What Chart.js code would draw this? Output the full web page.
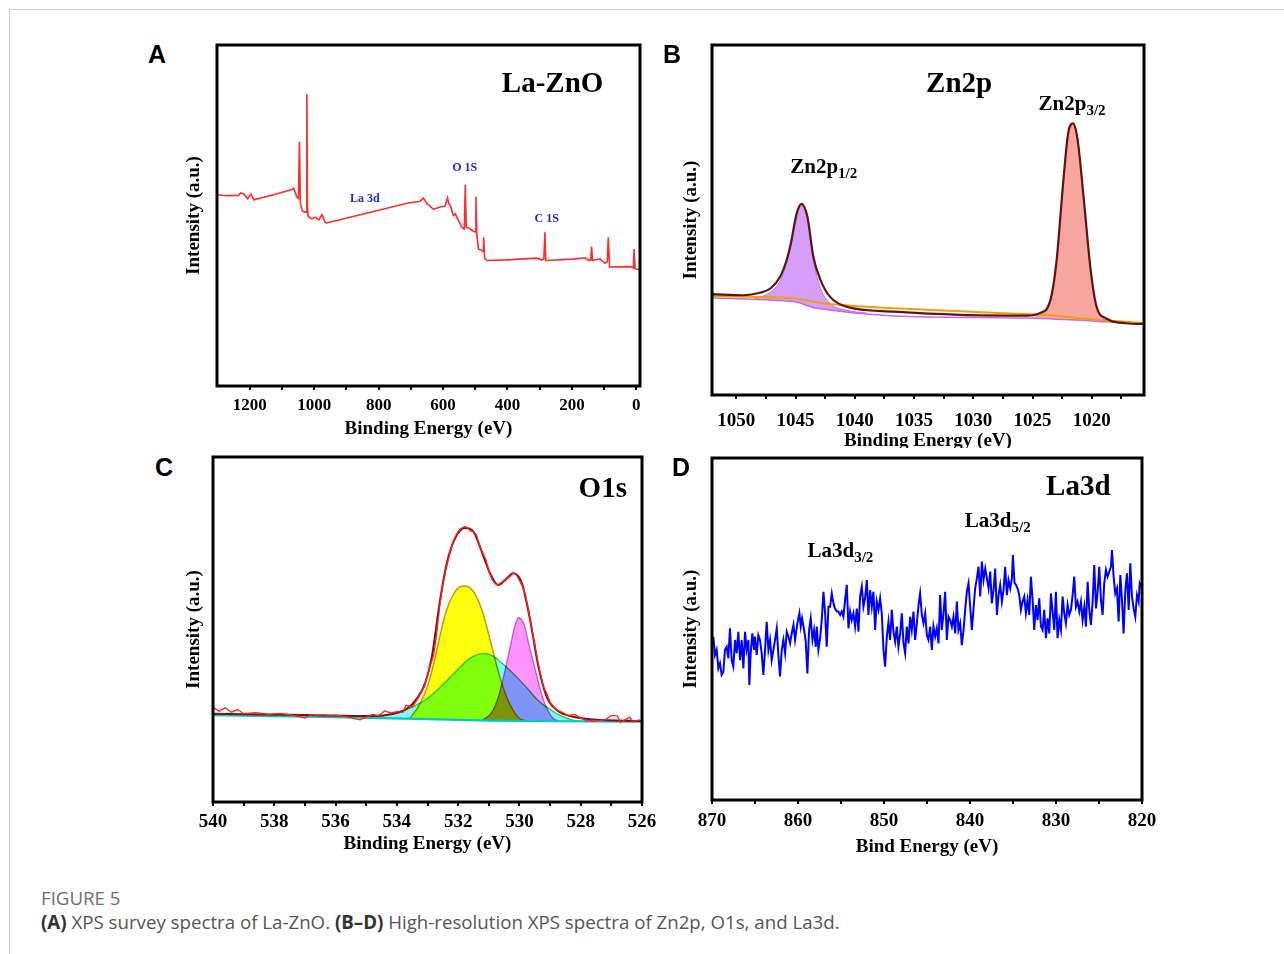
<!DOCTYPE html>
<html><head><meta charset="utf-8">
<script src="https://cdn.jsdelivr.net/npm/chart.js@4.4.0/dist/chart.umd.min.js"></script>
<style>
html,body{margin:0;padding:0;background:#fff;}
#fig{position:relative;width:1284px;height:954px;overflow:hidden;background:#fff;}
canvas{position:absolute;z-index:1;}
.ftop{position:absolute;left:9px;top:9px;width:1280px;height:0;border-top:1.5px solid #cfcfcf;}
.fleft{position:absolute;left:9px;top:9px;width:0;height:950px;border-left:1.5px solid #cfcfcf;}
.letter{position:absolute;z-index:3;font-family:"Liberation Sans",Arial,sans-serif;font-weight:bold;font-size:25px;line-height:25px;color:#000;}
.cap{position:absolute;left:41px;font-family:"Open Sans",sans-serif;font-size:18.7px;line-height:22px;white-space:nowrap;}
</style></head>
<body><div id="fig">
<div class="ftop"></div><div class="fleft"></div>
<canvas id="cA" width="467" height="405" style="left:183px;top:35px"></canvas>
<canvas id="cB" width="484" height="413" style="left:680px;top:35px"></canvas>
<canvas id="cC" width="479" height="408" style="left:183px;top:447px"></canvas>
<canvas id="cD" width="482" height="410" style="left:680px;top:448px"></canvas>
<div class="letter" style="left:148px;top:42px">A</div>
<div class="letter" style="left:663px;top:42px">B</div>
<div class="letter" style="left:155px;top:455px">C</div>
<div class="letter" style="left:672px;top:455px">D</div>
<div class="cap" style="top:887px;color:#6e6e6e">FIGURE 5</div>
<div class="cap" style="top:911px;color:#555"><b style="color:#333">(A)</b> XPS survey spectra of La-ZnO. <b style="color:#333">(B–D)</b> High-resolution XPS spectra of Zn2p, O1s, and La3d.</div>
</div>
<script>
// ---------- Panel A: survey ----------
const surveyEnergy = [1300,1271,1235,1229,1219,1207,1196,1188,1126,1069,1064,1054,1049,1046,1043,1038,1031,1025,1023,1021,1019,1015,1007,997,986,976,966,961,816,712,671,661,650,630,609,594,586,582,578,568,562,552,542,537,534,531,528,521,506,500,498,495,490,480,476,474,471,464,402,309,294,287,284,281,195,159,149,141,139,136,113,97,90,87,83,20,14,9,7,4,-11];
const surveyIntensity = [56.1,55.8,55.9,56.6,56.3,54.9,56.3,54.6,56.1,57.6,58.0,55.4,55.0,71.6,53.5,51.5,51.0,51.0,85.6,52.0,49.8,49.5,49.0,49.5,48.7,50.2,48.0,47.8,51.2,53.6,54.2,55.1,53.5,51.8,52.5,52.7,55.2,53.4,53.0,50.0,50.5,48.5,46.6,46.1,46.0,59.1,46.5,46.4,45.4,45.2,55.6,44.0,40.2,39.8,39.5,43.6,37.5,36.8,37.0,37.5,37.0,37.2,45.1,36.8,37.2,37.6,36.8,37.0,40.9,36.8,37.3,36.0,36.4,43.6,34.9,35.0,34.8,34.6,40.2,34.4,34.1];
const surveyMajorTicks = [1200,1000,800,600,400,200,0];
const surveyMinorTicks = [1100,900,700,500,300,100];

// ---------- Panel B: Zn2p ----------
const znEnvE = [1052.0,1049.4,1048.0,1047.1,1046.3,1045.8,1045.4,1044.9,1044.5,1044.0,1043.5,1042.9,1042.1,1040.7,1036.7,1031.1,1025.5,1024.4,1023.5,1023.0,1022.4,1022.0,1021.6,1021.2,1020.7,1020.1,1019.6,1018.8,1017.1,1015.6];
const znEnvI = [28.8,28.5,29.2,30.5,33.8,38.0,43.3,51.9,54.6,50.9,39.5,32.9,28.1,25.2,23.8,22.9,22.7,23.4,27.1,37.6,61.4,74.8,77.6,72.9,56.7,35.7,25.2,21.9,20.5,20.3];
const znBgOrangeE = [1052,1045.2,1042.4,1036.7,1028.3,1024.1,1019.9,1015.6];
const znBgOrangeI = [28.3,27.6,26.1,24.8,23.5,22.9,21.6,20.5];
const znBgE = [1052,1045.2,1043.2,1036.7,1025.5,1021.3,1018.8,1015.6];
const znBgI = [27.8,26.7,24.8,22.6,22.0,21.4,20.9,20.3];
const zn12E = [1048.5,1047.1,1046.3,1045.8,1045.4,1044.9,1044.5,1044.0,1043.5,1042.9,1042.1,1040.7,1039.0];
const zn12I = [27.4,29.4,32.6,37.0,42.6,51.5,54.3,50.5,38.5,30.5,26.2,24.2,23.4];
const zn32E = [1025.0,1024.4,1023.5,1023.0,1022.4,1022.0,1021.6,1021.2,1020.7,1020.1,1019.6,1018.8,1018.0];
const zn32I = [22.0,22.8,26.6,37.2,61.0,74.5,77.3,72.6,56.4,35.4,25.0,21.5,20.8];
const znMajorTicks = [1050,1045,1040,1035,1030,1025,1020];
const znMinorTicks = [1047.5,1042.5,1037.5,1032.5,1027.5,1022.5,1017.5];

// ---------- Panel C: O1s ----------
const oRawE = [540.0,539.8,539.6,539.4,539.2,539.0,538.6,538.2,537.8,537.4,537.0,536.8,536.4,536.0,535.6,535.2,535.0,534.8,534.6,534.4,534.2,534.0,533.8,533.7,533.5,533.3,533.1,532.9,532.8,532.7,532.6,532.5,532.4,532.3,532.2,532.1,532.0,531.9,531.8,531.7,531.6,531.5,531.4,531.3,531.2,531.1,531.0,530.9,530.8,530.7,530.6,530.5,530.4,530.3,530.2,530.1,530.0,529.9,529.8,529.7,529.6,529.5,529.4,529.3,529.2,529.1,529.0,528.8,528.6,528.4,528.2,528.0,527.8,527.6,527.2,527.0,526.8,526.7,526.6,526.4,526.3,526.1,526.0];
const oRawI = [27.5,26.3,27.3,26.0,26.8,25.6,25.9,25.4,25.7,25.2,24.3,25.3,24.8,25.2,24.6,23.8,24.6,25.4,25.0,26.4,25.8,26.2,26.0,28.0,27.5,30.2,33.5,39.8,42.5,48.8,57.0,63.0,67.5,71.0,74.5,76.8,78.4,79.3,79.8,79.6,78.6,78.4,77.4,74.2,72.3,70.4,67.0,64.6,63.4,62.8,63.6,63.9,65.0,65.4,66.5,65.8,64.2,62.5,59.8,55.4,50.4,45.8,40.6,36.4,33.0,31.2,28.9,26.8,26.0,25.0,25.4,24.3,23.6,23.4,23.8,25.1,24.9,23.0,23.6,24.6,23.2,23.8,23.5];
const oEnvE = [540,536.95,534.77,534.1,533.68,533.35,533.08,532.86,532.59,532.37,532.1,531.78,531.5,531.29,530.96,530.69,530.47,530.2,529.92,529.65,529.38,529.11,528.78,528.24,527.58,526];
const oEnvI = [25.6,25.2,24.9,25.6,27.0,29.9,34.4,42.0,58.5,69.2,76.4,79.4,78.4,74.0,66.3,62.9,64.3,66.3,63.4,52.7,39.2,30.5,26.6,24.7,23.9,23.5];
const oBgE = [540,536,533,531,529,526];
const oBgI = [25.2,24.6,24.0,23.6,23.4,23.3];
const oYellowE = [533.6,533.3,533.0,532.8,532.6,532.4,532.2,532.0,531.8,531.6,531.4,531.2,531.0,530.8,530.6,530.4,530.2,530.0,529.8];
const oYellowI = [24.0,27.6,33.5,40.0,47.9,55.0,59.5,62.0,62.6,62.0,59.5,55.0,48.5,41.5,35.0,30.0,26.5,24.2,23.5];
const oBroadE = [535.0,534.5,534.0,533.5,533.0,532.5,532.0,531.6,531.2,530.9,530.6,530.2,529.8,529.4,529.0,528.6,528.2,527.8];
const oBroadI = [24.5,25.0,26.0,27.5,30.0,34.0,38.5,41.7,43.0,42.5,40.5,37.2,33.5,29.5,26.8,24.8,23.6,23.3];
const oPinkE = [531.2,530.9,530.7,530.5,530.3,530.15,530.03,529.85,529.7,529.5,529.3,529.1,528.9,528.7];
const oPinkI = [23.7,26.0,30.0,37.0,45.0,51.0,53.4,51.5,46.0,39.0,32.0,27.0,24.2,23.4];
const oMajorTicks = [540,538,536,534,532,530,528,526];
const oMinorTicks = [539,537,535,533,531,529,527];

// ---------- Panel D: La3d ----------
const laE = [869.85,869.65,869.46,869.26,869.07,868.88,868.68,868.49,868.29,868.10,867.91,867.71,867.52,867.32,867.13,866.94,866.74,866.55,866.35,866.16,865.97,865.77,865.66,865.50,865.31,865.11,865.00,864.80,864.61,864.42,864.22,864.03,863.83,863.64,863.44,863.25,863.06,862.86,862.67,862.47,862.28,862.09,861.89,861.70,861.50,861.31,861.12,860.92,860.73,860.53,860.34,860.07,859.84,859.68,859.53,859.29,859.10,858.91,858.71,858.52,858.32,858.13,857.94,857.82,857.63,857.43,857.24,857.04,856.85,856.66,856.46,856.27,856.07,855.88,855.69,855.49,855.30,855.10,854.91,854.72,854.52,854.33,854.13,853.94,853.75,853.55,853.36,853.16,852.97,852.78,852.58,852.39,852.20,852.00,851.81,851.61,851.42,851.23,851.03,850.84,850.64,850.45,850.26,850.06,849.87,849.67,849.48,849.29,849.09,848.90,848.70,848.51,848.32,848.12,847.93,847.73,847.54,847.35,847.15,846.96,846.77,846.57,846.38,846.18,845.99,845.80,845.60,845.41,845.21,845.02,844.83,844.63,844.44,844.25,844.05,843.86,843.66,843.47,843.28,843.08,842.89,842.69,842.50,842.31,842.11,841.92,841.72,841.53,841.34,841.14,840.95,840.75,840.56,840.37,840.17,839.98,839.78,839.59,839.40,839.20,839.01,838.81,838.62,838.43,838.23,838.04,837.84,837.65,837.46,837.26,837.07,836.87,836.68,836.49,836.29,836.10,835.91,835.71,835.52,835.32,835.13,835.01,834.82,834.66,834.47,834.27,834.08,833.89,833.69,833.50,833.31,833.11,832.92,832.72,832.53,832.34,832.14,831.95,831.75,831.56,831.37,831.17,830.98,830.78,830.59,830.40,830.20,830.01,829.82,829.62,829.43,829.23,829.04,828.85,828.65,828.46,828.26,828.07,827.88,827.68,827.49,827.29,827.10,826.91,826.71,826.52,826.32,826.13,825.94,825.74,825.55,825.35,825.16,824.97,824.77,824.58,824.39,824.19,824.00,823.80,823.61,823.49,823.30,823.11,822.91,822.72,822.52,822.33,822.14,821.94,821.75,821.55,821.36,821.17,820.97,820.78,820.58,820.39,820.27,820.0];
const laI = [47.8,42.4,43.9,38.5,40.0,36.6,37.5,43.9,44.8,41.4,50.2,40.9,39.0,46.8,42.9,49.2,40.9,46.8,38.5,49.2,43.9,46.8,33.6,42.9,48.7,43.9,47.8,42.4,48.2,46.8,42.9,36.6,43.9,52.1,43.9,46.8,40.9,43.9,46.8,50.2,42.4,36.1,43.9,46.8,42.9,49.2,47.8,45.8,48.7,51.2,46.8,51.7,54.6,50.7,53.1,49.7,46.3,37.0,49.7,53.1,46.8,49.7,44.8,50.7,43.9,47.3,52.6,60.9,54.6,44.8,56.5,56.5,60.4,57.5,56.0,55.1,55.1,54.1,55.1,53.6,58.5,62.9,50.2,55.1,52.6,54.6,50.7,56.0,49.2,59.5,62.4,56.5,59.0,64.3,54.1,61.4,56.5,60.9,49.7,58.0,55.6,59.0,54.6,43.9,39.0,47.8,52.1,46.8,55.6,49.2,46.3,50.7,44.8,48.7,54.6,45.8,42.9,50.7,45.8,53.6,49.7,55.1,46.8,51.7,57.0,60.4,54.1,51.7,54.6,48.2,46.8,50.7,43.9,50.7,47.8,50.2,45.8,59.9,49.7,54.6,60.9,46.8,53.6,52.6,50.7,53.6,48.7,58.0,49.7,51.7,45.3,49.7,55.6,60.9,63.4,56.5,49.7,56.0,61.9,64.8,68.2,59.5,69.7,64.3,67.7,64.8,61.9,66.8,57.5,61.4,67.7,54.1,59.9,62.9,58.0,61.4,68.2,59.9,64.3,61.9,64.8,71.6,63.4,62.9,61.9,59.9,55.6,58.0,59.5,54.6,58.5,54.1,65.3,58.5,49.7,57.0,52.6,59.0,50.7,49.7,55.6,47.3,53.1,48.7,60.4,55.1,49.7,60.9,47.3,52.6,49.7,59.5,54.6,51.7,57.0,54.1,55.6,59.9,65.3,56.5,58.0,55.1,58.0,52.6,56.5,50.7,63.8,55.6,51.2,58.0,68.7,56.0,60.9,68.2,58.5,54.1,63.4,67.3,65.3,66.8,68.2,73.1,65.3,60.4,61.9,52.2,65.8,58.5,48.7,61.4,66.3,55.6,69.2,59.5,56.0,53.6,59.9,58.0,63.4,62.0];
const laMajorTicks = [870,860,850,840,830,820];
const laMinorTicks = [865,855,845,835,825];

// ---------- helpers ----------
const SERIF = '"Liberation Serif","Times New Roman",serif';
const pts = (xs, ys) => xs.map((x, i) => ({x: x, y: ys[i]}));

const framePlugin = {
  id: 'frame',
  beforeDraw(chart) {
    const c = chart.ctx; c.save(); c.fillStyle = '#fff';
    c.fillRect(0, 0, chart.width, chart.height); c.restore();
  },
  beforeDatasetsDraw(chart) {
    const ds = chart.data.datasets;
    chart.ctx.globalCompositeOperation = ds[ds.length - 1].blend || 'source-over';
  },
  afterDatasetDraw(chart, args) {
    const next = chart.data.datasets[args.index - 1];
    chart.ctx.globalCompositeOperation = (next && next.blend) || 'source-over';
  },
  afterDatasetsDraw(chart) { chart.ctx.globalCompositeOperation = 'source-over'; },
  afterDraw(chart) {
    const a = chart.chartArea, c = chart.ctx;
    c.save(); c.strokeStyle = '#000'; c.lineWidth = 3;
    c.strokeRect(a.left, a.top, a.right - a.left, a.bottom - a.top);
    c.restore();
  }
};

function notesPlugin(notes) {
  return {
    id: 'notes',
    afterDraw(chart) {
      const c = chart.ctx, xs = chart.scales.x, ys = chart.scales.y;
      c.save();
      notes.forEach(n => {
        const px = xs.getPixelForValue(n.x), py = ys.getPixelForValue(n.y);
        c.fillStyle = n.color || '#000';
        c.textBaseline = n.baseline || 'alphabetic';
        c.textAlign = 'left';
        const f1 = 'bold ' + n.size + 'px ' + SERIF;
        c.font = f1; const w1 = c.measureText(n.text).width;
        let w2 = 0, f2 = '';
        if (n.sub) { f2 = 'bold ' + n.subSize + 'px ' + SERIF; c.font = f2; w2 = c.measureText(n.sub).width; }
        const tw = w1 + w2;
        const sx = n.align === 'center' ? px - tw / 2 : (n.align === 'right' ? px - tw : px);
        c.font = f1; c.fillText(n.text, sx, py);
        if (n.sub) { c.font = f2; c.fillText(n.sub, sx + w1, py + n.subDrop); }
      });
      c.restore();
    }
  };
}

function makeChart(id, p) {
  const allTicks = p.major.concat(p.minor).sort((a, b) => a - b);
  return new Chart(document.getElementById(id), {
    type: 'line',
    data: {datasets: p.datasets},
    options: {
      responsive: false, animation: false,
      layout: {padding: {top: p.padTop, right: p.padRight, left: 0, bottom: 0}},
      plugins: {legend: {display: false}, tooltip: {enabled: false}},
      elements: {point: {radius: 0}},
      scales: {
        x: {
          type: 'linear', reverse: true, min: p.min, max: p.max,
          afterBuildTicks: s => { s.ticks = allTicks.map(v => ({value: v})); },
          afterFit: s => { s.height = p.hx; },
          ticks: {
            autoSkip: false, maxRotation: 0, color: '#000', padding: p.tickPad,
            font: {family: SERIF, weight: 'bold', size: p.tickSize},
            callback: v => p.major.includes(v) ? String(v) : ''
          },
          grid: {drawOnChartArea: false, drawTicks: true, tickLength: 4, color: '#000', lineWidth: 2},
          border: {display: false},
          title: {display: true, text: p.xTitle, color: '#000',
                  font: {family: SERIF, weight: 'bold', size: 19},
                  padding: {top: 0, bottom: p.titlePadB || 0}}
        },
        y: {
          min: 0, max: 100,
          afterFit: s => { s.width = p.wy; },
          ticks: {display: false},
          grid: {display: false},
          border: {display: false},
          title: {display: true, text: 'Intensity (a.u.)', color: '#000',
                  font: {family: SERIF, weight: 'bold', size: 19},
                  padding: {top: 0, bottom: 0}}
        }
      }
    },
    plugins: [framePlugin, notesPlugin(p.notes)]
  });
}

// ---------- A ----------
makeChart('cA', {
  min: -11.5, max: 1302, major: surveyMajorTicks, minor: surveyMinorTicks,
  padTop: 10, padRight: 10, wy: 34, hx: 54, tickSize: 17, tickPad: 5,
  xTitle: 'Binding Energy (eV)',
  datasets: [{data: pts(surveyEnergy, surveyIntensity), borderColor: '#ff2a2a', borderWidth: 1.6, tension: 0, fill: false}],
  notes: [
    {text: 'La-ZnO', x: 260, y: 86.2, size: 29, align: 'center'},
    {text: 'O 1S', x: 533, y: 64.1, size: 12, align: 'center', baseline: 'middle', color: '#1f1fe6'},
    {text: 'La 3d', x: 843, y: 54.8, size: 12, align: 'center', baseline: 'middle', color: '#1f1fe6'},
    {text: 'C 1S', x: 278, y: 49.0, size: 12, align: 'center', baseline: 'middle', color: '#1f1fe6'}
  ]
});

// ---------- B ----------
makeChart('cB', {
  min: 1015.6, max: 1052.05, major: znMajorTicks, minor: znMinorTicks,
  padTop: 10, padRight: 20, wy: 32, hx: 53, tickSize: 19, tickPad: 11, titlePadB: -4.4,
  xTitle: 'Binding Energy (eV)',
  datasets: [
    {data: pts(znEnvE, znEnvI), borderColor: '#5e1414', borderWidth: 2.2, cubicInterpolationMode: 'monotone', fill: false},
    {data: pts(znBgOrangeE, znBgOrangeI), borderColor: '#f0a000', borderWidth: 2, tension: 0.3, fill: false},
    {data: pts(znBgE, znBgI), borderColor: '#c66ae0', borderWidth: 1.5, tension: 0.3, fill: false},
    {data: pts(zn12E, zn12I), borderColor: '#b870d8', borderWidth: 1, cubicInterpolationMode: 'monotone', fill: 2, backgroundColor: 'rgb(214,158,248)'},
    {data: pts(zn32E, zn32I), borderColor: '#e08a84', borderWidth: 1, cubicInterpolationMode: 'monotone', fill: 2, backgroundColor: 'rgb(250,166,160)'}
  ],
  notes: [
    {text: 'Zn2p', x: 1031.2, y: 86.7, size: 29, align: 'center'},
    {text: 'Zn2p', sub: '3/2', x: 1024.5, y: 81.4, size: 21, subSize: 15, subDrop: 5, align: 'left'},
    {text: 'Zn2p', sub: '1/2', x: 1045.45, y: 63.4, size: 21, subSize: 15, subDrop: 5, align: 'left'}
  ]
});

// ---------- C ----------
makeChart('cC', {
  min: 526, max: 540, major: oMajorTicks, minor: oMinorTicks,
  padTop: 10, padRight: 20, wy: 30, hx: 53, tickSize: 19, tickPad: 5,
  xTitle: 'Binding Energy (eV)',
  datasets: [
    {data: pts(oRawE, oRawI), borderColor: '#ff2020', borderWidth: 1.3, tension: 0, fill: false},
    {data: pts(oEnvE, oEnvI), borderColor: '#7a1010', borderWidth: 2, cubicInterpolationMode: 'monotone', fill: false},
    {data: pts(oBgE, oBgI), borderColor: '#00c8c8', borderWidth: 2.2, tension: 0.3, fill: false},
    {data: pts(oPinkE, oPinkI), borderColor: '#c070e0', borderWidth: 1.3, cubicInterpolationMode: 'monotone', fill: 2, backgroundColor: 'rgba(255,0,255,0.42)', blend: 'multiply'},
    {data: pts(oBroadE, oBroadI), borderColor: '#30c840', borderWidth: 1.3, cubicInterpolationMode: 'monotone', fill: 2, backgroundColor: 'rgba(0,255,240,0.5)', blend: 'multiply'},
    {data: pts(oYellowE, oYellowI), borderColor: '#c89a00', borderWidth: 1.5, cubicInterpolationMode: 'monotone', fill: 2, backgroundColor: 'rgba(255,255,0,0.95)'}
  ],
  notes: [
    {text: 'O1s', x: 527.28, y: 88.5, size: 29, align: 'center'}
  ]
});

// ---------- D ----------
makeChart('cD', {
  min: 820, max: 870, major: laMajorTicks, minor: laMinorTicks,
  padTop: 10, padRight: 20, wy: 32, hx: 58, tickSize: 19, tickPad: 6,
  xTitle: 'Bind Energy (eV)',
  datasets: [{data: pts(laE, laI), borderColor: '#0000ff', borderWidth: 2, tension: 0, fill: false}],
  notes: [
    {text: 'La3d', x: 827.4, y: 89.3, size: 29, align: 'center'},
    {text: 'La3d', sub: '5/2', x: 840.6, y: 79.9, size: 21, subSize: 15, subDrop: 5, align: 'left'},
    {text: 'La3d', sub: '3/2', x: 858.9, y: 71.1, size: 21, subSize: 15, subDrop: 5, align: 'left'}
  ]
});
</script>
</body></html>
